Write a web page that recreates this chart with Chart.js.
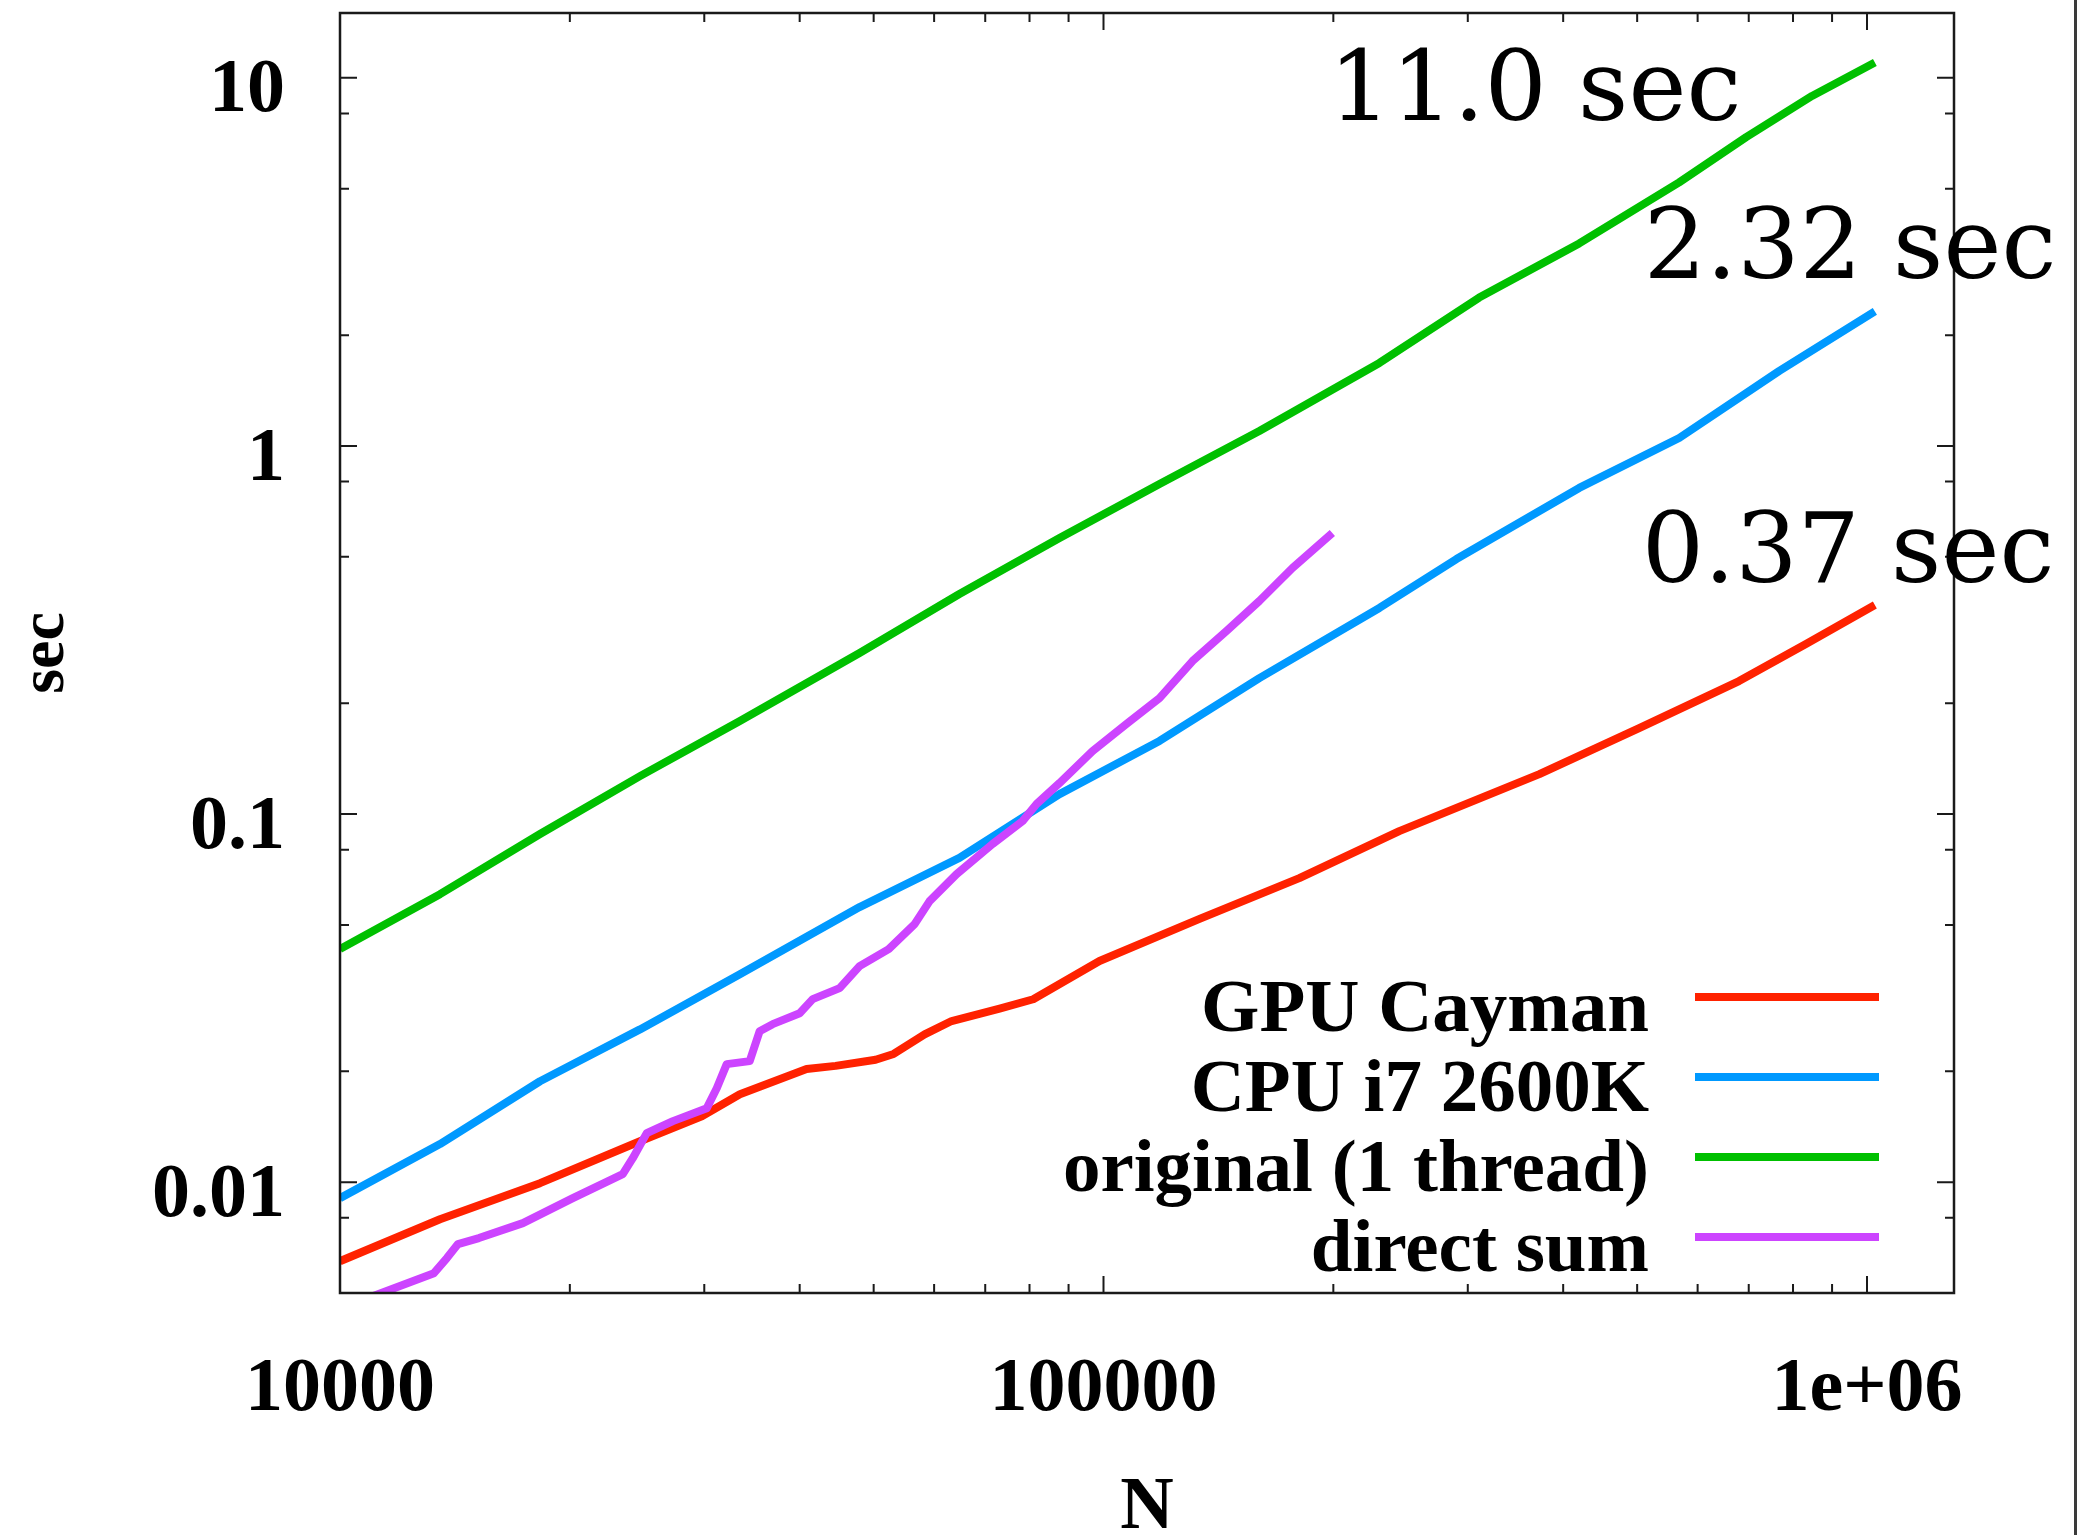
<!DOCTYPE html>
<html lang="en">
<head>
    <meta charset="UTF-8">
    <title>Timing vs N</title>
    <script src="https://cdn.jsdelivr.net/npm/chart.js@4"></script>
    <style>
        html, body { margin: 0; padding: 0; background: #fff; }
        #wrap { position: relative; width: 2077px; height: 1535px; }
        #edge { position: absolute; right: 0; top: 0; width: 3px; height: 100%; background: #3a3a3a; }
    </style>
</head>
<body>
    <div id="wrap">
        <canvas id="timing-chart"></canvas>
        <div id="edge"></div>
    </div>

    <script>
        const serif = "'Liberation Serif', 'Times New Roman', serif";

        const seriesNames = ['GPU Cayman', 'CPU i7 2600K', 'original (1 thread)', 'direct sum'];
        const seriesColors = ['#ff2200', '#0099ff', '#00c000', '#cc44ff'];

        // N and seconds
        const nGpu = [10000, 13520, 18280, 24710, 29780, 33400, 40840, 44570, 50300, 53100, 58300, 63250,
                      73100, 80900, 98800, 133600, 180500, 244000, 372300, 503000, 679800, 831800, 1024000];
        const secGpu = [0.0061, 0.00793, 0.00994, 0.01292, 0.0151, 0.01734, 0.0203, 0.0207, 0.0215, 0.0223, 0.0252, 0.0274,
                        0.0296, 0.0314, 0.0399, 0.0519, 0.067, 0.0899, 0.1284, 0.1713, 0.2298, 0.2897, 0.37];

        const nCpu = [10000, 13520, 18280, 24710, 33400, 47920, 64750, 87580, 118400, 160000, 229800, 289900,
                      419800, 567500, 767700, 1024000];
        const secCpu = [0.00905, 0.01269, 0.0188, 0.026, 0.0367, 0.0559, 0.076, 0.1133, 0.158, 0.234, 0.363, 0.493,
                        0.769, 1.051, 1.599, 2.32];

        const nOrig = [10000, 13520, 18280, 24710, 33400, 47920, 64750, 87580, 118400, 160000, 229800, 310500,
                       419800, 567500, 694600, 847200, 1024000];
        const secOrig = [0.043, 0.0606, 0.0883, 0.1268, 0.179, 0.274, 0.396, 0.5623, 0.788, 1.098, 1.681, 2.53,
                         3.55, 5.2, 6.9, 8.93, 11.0];

        const nDirect = [10000, 11213, 13274, 13804, 14274, 15204, 17360, 20180, 23460, 24180, 25220, 27290, 30230,
                         31150, 32100, 34400, 35450, 36870, 40000, 41600, 45120, 47920, 52320, 56570, 59190, 64210,
                         71560, 78340, 81720, 87580, 96740, 107200, 118400, 130800, 144900, 160000, 176800, 199400];
        const secDirect = [0.00455, 0.00496, 0.00566, 0.00622, 0.00679, 0.00705, 0.00774, 0.00905, 0.01051, 0.01162, 0.01359, 0.01465, 0.01589,
                           0.018, 0.02093, 0.02132, 0.02572, 0.02687, 0.02878, 0.03143, 0.03366, 0.03864, 0.04297, 0.05025, 0.05802, 0.0687,
                           0.0829, 0.0957, 0.1065, 0.1214, 0.1483, 0.1757, 0.2066, 0.2604, 0.3143, 0.3792, 0.4661, 0.5801];

        const xTickValues = [1e4, 1e5, 1e6];
        const xTickLabels = ['10000', '100000', '1e+06'];
        const yTickValues = [0.01, 0.1, 1, 10];
        const yTickLabels = ['0.01', '0.1', '1', '10'];
        const xMinorSteps = [2, 3, 4, 5, 6, 7, 8, 9];
        const yMinorSteps = [2, 5, 8];

        const notes = ['11.0 sec', '2.32 sec', '0.37 sec'];

        const pts = (xs, ys) => xs.map((x, i) => ({ x: x, y: ys[i] }));
        const seriesData = [pts(nGpu, secGpu), pts(nCpu, secCpu), pts(nOrig, secOrig), pts(nDirect, secDirect)];

        // border, inward mirrored ticks, key and the hand-written notes
        const gnuplotFrame = {
            id: 'gnuplotFrame',
            afterDatasetsDraw(chart) {
                const { ctx, chartArea: a, scales: { x, y } } = chart;
                ctx.save();
                ctx.strokeStyle = '#1a1a1a';
                ctx.lineWidth = 2.5;
                ctx.strokeRect(a.left, a.top, a.right - a.left, a.bottom - a.top);

                ctx.lineWidth = 2;
                ctx.beginPath();
                const xTick = (v, len) => {
                    if (v < x.min || v > x.max) return;
                    const px = x.getPixelForValue(v);
                    ctx.moveTo(px, a.bottom); ctx.lineTo(px, a.bottom - len);
                    ctx.moveTo(px, a.top); ctx.lineTo(px, a.top + len);
                };
                const yTick = (v, len) => {
                    if (v <= y.min || v > y.max) return;
                    const py = y.getPixelForValue(v);
                    ctx.moveTo(a.left, py); ctx.lineTo(a.left + len, py);
                    ctx.moveTo(a.right, py); ctx.lineTo(a.right - len, py);
                };
                xTickValues.forEach(v => xTick(v, 17));
                [1e4, 1e5, 1e6].forEach(d => xMinorSteps.forEach(m => xTick(d * m, 9)));
                yTickValues.forEach(v => yTick(v, 17));
                [0.001, 0.01, 0.1, 1, 10].forEach(d => yMinorSteps.forEach(m => yTick(d * m, 9)));
                ctx.stroke();

                // key, text right-aligned left of the sample line
                ctx.font = 'bold 75px ' + serif;
                ctx.fillStyle = '#000';
                ctx.textAlign = 'right';
                ctx.textBaseline = 'middle';
                chart.data.datasets.forEach((ds, i) => {
                    const rowY = a.bottom - 296 + i * 80;
                    ctx.fillText(ds.label, a.right - 305, rowY + 15);
                    ctx.strokeStyle = ds.borderColor;
                    ctx.lineWidth = 8;
                    ctx.beginPath();
                    ctx.moveTo(a.right - 259, rowY);
                    ctx.lineTo(a.right - 75, rowY);
                    ctx.stroke();
                });

                ctx.font = "98px 'DejaVu Serif', serif";
                ctx.textAlign = 'center';
                ctx.textBaseline = 'alphabetic';
                ctx.fillText(notes[0], 1535, 120);
                ctx.fillText(notes[1], 1850, 278);
                ctx.fillText(notes[2], 1848, 582);
                ctx.restore();
            }
        };

        new Chart(document.getElementById('timing-chart'), {
            type: 'line',
            data: {
                datasets: seriesData.map((d, i) => ({
                    label: seriesNames[i],
                    data: d,
                    borderColor: seriesColors[i],
                    backgroundColor: seriesColors[i],
                    borderWidth: 8,
                    borderJoinStyle: 'round',
                    pointRadius: 0,
                    tension: 0,
                    fill: false,
                    order: 4 - i
                }))
            },
            options: {
                responsive: true,
                maintainAspectRatio: false,
                animation: false,
                layout: { padding: { top: 13, right: 123, left: 0, bottom: 0 } },
                plugins: { legend: { display: false }, tooltip: { enabled: false } },
                scales: {
                    x: {
                        type: 'logarithmic',
                        min: 1e4,
                        max: 1.3e6,
                        afterFit: s => { s.height = 242; s.paddingLeft = 0; s.paddingRight = 0; },
                        afterBuildTicks: s => { s.ticks = xTickValues.map(v => ({ value: v })); },
                        grid: { display: false, drawTicks: false },
                        border: { display: false },
                        ticks: {
                            padding: 52,
                            maxRotation: 0,
                            autoSkip: false,
                            color: '#000',
                            font: { family: serif, size: 76, weight: 'bold' },
                            callback: (v, i) => xTickLabels[i]
                        },
                        title: {
                            display: true,
                            text: 'N',
                            color: '#000',
                            padding: 0,
                            font: { family: serif, size: 74, weight: 'bold', lineHeight: 0.7 }
                        }
                    },
                    y: {
                        type: 'logarithmic',
                        min: 0.005,
                        max: 15,
                        afterFit: s => { s.width = 340; s.paddingTop = 0; s.paddingBottom = 0; },
                        afterBuildTicks: s => { s.ticks = yTickValues.map(v => ({ value: v })); },
                        grid: { display: false, drawTicks: false },
                        border: { display: false },
                        ticks: {
                            padding: 55,
                            labelOffset: 14,
                            autoSkip: false,
                            color: '#000',
                            font: { family: serif, size: 76, weight: 'bold' },
                            callback: (v, i) => yTickLabels[i]
                        },
                        title: {
                            display: true,
                            text: 'sec',
                            color: '#000',
                            padding: { top: 8, bottom: 0 },
                            font: { family: serif, size: 64, weight: 'bold' }
                        }
                    }
                }
            },
            plugins: [gnuplotFrame]
        });
    </script>
</body>
</html>
